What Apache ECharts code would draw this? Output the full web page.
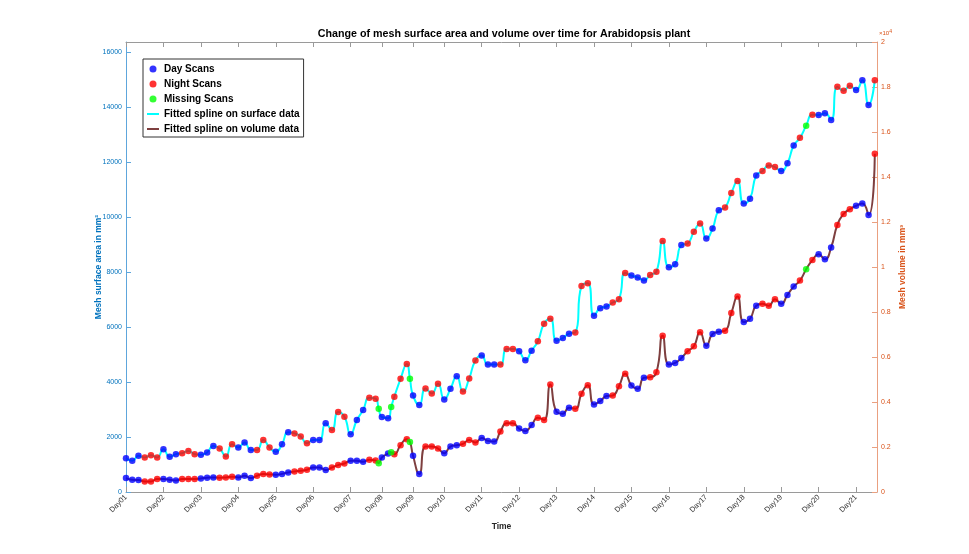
<!DOCTYPE html>
<html><head><meta charset="utf-8">
<script src="https://cdn.jsdelivr.net/npm/echarts@6/dist/echarts.min.js"></script>
<style>html,body{margin:0;padding:0;background:#fff}#c{width:969px;height:554px}</style>
</head><body><div id="c"></div>
<script>
const dayLabels = ['Day01','Day02','Day03','Day04','Day05','Day06','Day07','Day08','Day09','Day10','Day11','Day12','Day13','Day14','Day15','Day16','Day17','Day18','Day19','Day20','Day21'];
const dayStartIdx = [0,6,12,18,24,30,36,41,46,51,57,63,69,75,81,87,93,99,105,111,117];
// scan type per day: D = day scan, N = night scan
const dayPatterns = ['DDDNNN','DDDNNN','DDDNNN','DDDNNN','DDDNNN','DDDNNN','DDDNN','DDNNN','DDNNN','DDDNNN','DDDNNN','DDDNNN','DDDNNN','DDDNNN','DDDNNN','DDDNNN','DDDNNN','DDDNNN','DDDNNN','DDDNNN','DDDN'];
const surfaceArea = [1231,1133,1314,1256,1339,1256,1557,1278,1376,1412,1495,1376,1350,1437,1677,1582,1292,1738,1618,1799,
1531,1531,1893,1618,1459,1738,2170,2130,2020,1774,1894,1894,2498,2256,2908,2739,2100,2618,2980,3427,
3391,2727,2685,3463,4115,4658,3511,3161,3765,3584,3934,3367,3753,4211,3650,4130,4785,4959,4633,4633,
4633,5201,5201,5116,4790,5140,5478,6118,6299,5502,5599,5756,5803,7493,7590,6407,6685,6745,6890,7011,
7960,7870,7800,7690,7891,8012,9122,8170,8279,8977,9038,9460,9762,9219,9581,10244,10341,10870,11305,10487,
10667,11511,11668,11873,11813,11668,11957,12597,12876,null,13720,13708,13767,13527,14733,14588,14769,14614,14975,14070,
14975];
const meshVolume = [619,544,531,472,472,575,575,544,516,575,575,575,605,634,649,634,649,678,649,723,
619,723,797,782,767,805,870,914,944,988,1091,1091,973,1091,1195,1268,1387,1387,1342,1431,
1400,1534,1711,1681,2080,2345,1607,797,2021,2021,1932,1726,2021,2080,2140,2316,2198,2400,2272,2242,
2684,3053,3053,2817,2714,2979,3304,3201,4779,3570,3481,3747,3702,4366,4749,3894,4041,4263,4292,4705,
5251,4735,4587,5074,5103,5325,6947,5664,5737,5959,6254,6475,7095,6505,7021,7124,7169,7951,8686,7553,
7700,8275,8363,8275,8570,8363,8761,9130,9396,null,10310,10562,10341,10871,11870,12360,12567,12720,12819,12310,
15032];
const missingX = [40.5, 42.5, 45.5, 109];
const missingSurface = [3029, 3088, 4115, 13321];
const missingVolume = [1283, 1770, 2226, 9897];

const FONT = 'Liberation Sans, Arial, Helvetica, sans-serif';
const scanType = dayPatterns.join('').split('');
function pts(vals, type) {
  const out = [];
  vals.forEach((v, i) => { if (v !== null && scanType[i] === type) out.push([i, v]); });
  return out;
}
function spline(vals, mv) {
  const out = [];
  vals.forEach((v, i) => { if (v !== null) out.push([i, v]); });
  missingX.forEach((x, k) => out.push([x, mv[k]]));
  out.sort((a, b) => a[0] - b[0]);
  return out;
}
const blue = '#0000FF', red = '#FF0000', green = '#00FF00';
const leftCol = '#0072BD', rightCol = '#D95319';
const chart = echarts.init(document.getElementById('c'), null, {renderer: 'canvas'});
const scatter = (name, data, color, yi) => ({
  name, type: 'scatter', yAxisIndex: yi, xAxisIndex: 0, data, symbolSize: 6.5,
  itemStyle: {color}, z: 5, silent: true
});
chart.setOption({
  animation: false,
  textStyle: {fontFamily: FONT},
  title: {
    text: 'Change of mesh surface area and volume over time for Arabidopsis plant',
    left: 499, top: 24, textAlign: 'center',
    textStyle: {fontSize: 10.7, fontWeight: 'bold', color: '#000', fontFamily: FONT}
  },
  grid: {left: 126, right: 92, top: 42, bottom: 62, containLabel: false},
  legend: {
    orient: 'vertical', left: 143, top: 59, padding: [5, 4, 3, 3], itemGap: 5,
    itemWidth: 12, itemHeight: 7, backgroundColor: '#fff', borderColor: '#333', borderWidth: 1,
    selectedMode: false,
    textStyle: {fontSize: 10, fontWeight: 'bold', color: '#000', fontFamily: FONT},
    data: [
      {name: 'Day Scans', icon: 'circle'},
      {name: 'Night Scans', icon: 'circle'},
      {name: 'Missing Scans', icon: 'circle'},
      {name: 'Fitted spline on surface data', itemStyle: {opacity: 0}},
      {name: 'Fitted spline on volume data', itemStyle: {opacity: 0}}
    ]
  },
  xAxis: [{
    type: 'value', min: 0, max: 120.35, position: 'bottom',
    axisLine: {show: true, onZero: false, lineStyle: {color: '#9a9a9a'}},
    axisTick: {show: true, inside: true, length: 5, customValues: dayStartIdx, lineStyle: {color: '#9a9a9a'}},
    axisLabel: {customValues: dayStartIdx, rotate: 45, fontSize: 7.5, color: '#333', margin: 4,
      formatter: v => dayLabels[dayStartIdx.indexOf(v)] || ''},
    splitLine: {show: false},
    name: 'Time', nameLocation: 'middle', nameGap: 30, nameMoveOverlap: false,
    nameTextStyle: {fontSize: 8.5, fontWeight: 'bold', color: '#262626'}
  }, {
    type: 'value', min: 0, max: 120.35, position: 'top',
    axisLine: {show: true, onZero: false, lineStyle: {color: '#9a9a9a'}},
    axisTick: {show: true, inside: true, length: 5, customValues: dayStartIdx, lineStyle: {color: '#9a9a9a'}},
    axisLabel: {show: false}, splitLine: {show: false}
  }],
  yAxis: [{
    type: 'value', min: 0, max: 16362, interval: 2000, position: 'left',
    axisLine: {show: true, onZero: false, lineStyle: {color: '#5ea6dc'}},
    axisTick: {show: true, inside: true, length: 5, lineStyle: {color: '#5ea6dc'}},
    axisLabel: {color: leftCol, fontSize: 7, margin: 4, showMaxLabel: false, formatter: v => String(v)},
    splitLine: {show: false},
    name: 'Mesh surface area in mm²', nameLocation: 'middle', nameGap: 23, nameRotate: 90, nameMoveOverlap: false,
    nameTextStyle: {color: leftCol, fontWeight: 'bold', fontSize: 8.5}
  }, {
    type: 'value', min: 0, max: 20000, interval: 2000, position: 'right',
    axisLine: {show: true, onZero: false, lineStyle: {color: '#eaa080'}},
    axisTick: {show: true, inside: true, length: 5, lineStyle: {color: '#eaa080'}},
    axisLabel: {color: rightCol, fontSize: 7, margin: 4,
      formatter: v => String(+(v / 10000).toFixed(1))},
    splitLine: {show: false},
    name: 'Mesh volume in mm³', nameLocation: 'middle', nameGap: 21, nameRotate: 90, nameMoveOverlap: false,
    nameTextStyle: {color: rightCol, fontWeight: 'bold', fontSize: 8.5}
  }],
  graphic: [{
    type: 'text', left: 879, top: 29,
    style: {text: '×10{s|4}', fill: rightCol, font: '6px ' + FONT,
      rich: {s: {fontSize: 5, verticalAlign: 'top', fill: rightCol, padding: [0,0,4,0]}}}
  }],
  series: [
    {name: 'Fitted spline on surface data', type: 'line', yAxisIndex: 0, data: spline(surfaceArea, missingSurface),
     smooth: 0.55, showSymbol: false, symbol: 'none', lineStyle: {color: '#00FFFF', width: 2}, itemStyle: {color: '#00FFFF'}, z: 2},
    {name: 'Fitted spline on volume data', type: 'line', yAxisIndex: 1, data: spline(meshVolume, missingVolume),
     smooth: 0.55, showSymbol: false, symbol: 'none', lineStyle: {color: '#7E3F3F', width: 2}, itemStyle: {color: '#7E3F3F'}, z: 2},
    scatter('Day Scans', pts(surfaceArea, 'D'), blue, 0),
    scatter('Night Scans', pts(surfaceArea, 'N'), red, 0),
    scatter('Missing Scans', missingX.map((x, k) => [x, missingSurface[k]]), green, 0),
    scatter('Day Scans', pts(meshVolume, 'D'), blue, 1),
    scatter('Night Scans', pts(meshVolume, 'N'), red, 1),
    scatter('Missing Scans', missingX.map((x, k) => [x, missingVolume[k]]), green, 1)
  ]
});
</script></body></html>
